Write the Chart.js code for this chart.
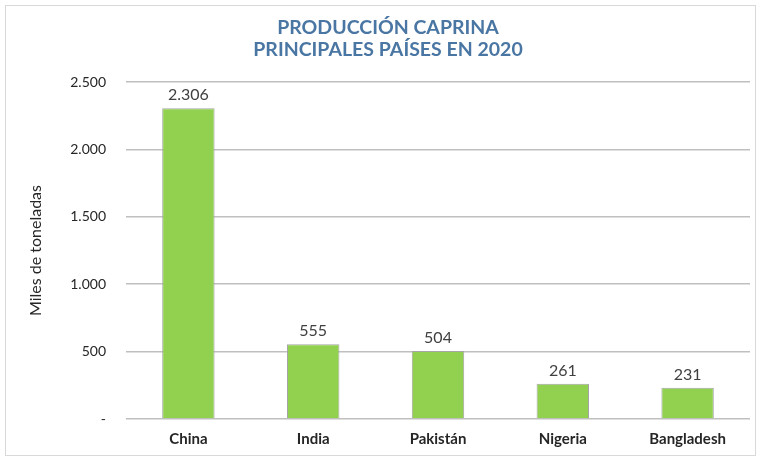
<!DOCTYPE html>
<html>
<head>
<meta charset="utf-8">
<script src="https://cdn.jsdelivr.net/npm/chart.js@4"></script>
<style>
  html, body { margin: 0; padding: 0; background: #fff; }
  #marco { position: absolute; left: 5px; top: 5px; width: 749px; height: 449px; border: 1px solid #d9d9d9; }
  #wrap { position: absolute; left: 0; top: 0; width: 757px; height: 459px; }
</style>
</head>
<body>
<div id="marco"></div>
<div id="wrap"><canvas id="caprinaChart"></canvas></div>
<script>
// producción caprina, principales países 2020 (miles de toneladas)
const paises = ['China', 'India', 'Pakistán', 'Nigeria', 'Bangladesh'];
const produccion = [2306, 555, 504, 261, 231];
const ticksY = [0, 500, 1000, 1500, 2000, 2500];

const fmt = v => v === 0 ? '-' : v.toLocaleString('de-DE');

// etiquetas de valor encima de cada barra
const etiquetas = {
    id: 'etiquetas',
    afterDatasetsDraw(chart) {
        const ctx = chart.ctx;
        const meta = chart.getDatasetMeta(0);
        ctx.save();
        ctx.font = "16px Lato, sans-serif";
        ctx.fillStyle = '#404040';
        ctx.textAlign = 'center';
        ctx.textBaseline = 'bottom';
        meta.data.forEach((bar, i) => {
            ctx.fillText(fmt(produccion[i]), bar.x, bar.y - 5);
        });
        ctx.restore();
    }
};

new Chart(document.getElementById('caprinaChart'), {
    type: 'bar',
    data: {
        labels: paises,
        datasets: [{
            data: produccion,
            backgroundColor: '#92D050',
            borderColor: '#A6A6A6',
            borderWidth: 1,
            barPercentage: 0.42,
            categoryPercentage: 1
        }]
    },
    plugins: [etiquetas],
    options: {
        responsive: true,
        maintainAspectRatio: false,
        animation: false,
        layout: {
            padding: { left: 26, right: 7, top: 12, bottom: 0 }
        },
        plugins: {
            legend: { display: false },
            tooltip: { enabled: false },
            title: {
                display: true,
                text: ['PRODUCCIÓN CAPRINA', 'PRINCIPALES PAÍSES EN 2020'],
                color: '#4A76A3',
                font: { family: "Lato, sans-serif", size: 19.5, weight: 'bold', lineHeight: 1.13 },
                padding: { top: 5, bottom: 21 }
            }
        },
        scales: {
            y: {
                min: 0,
                max: 2500,
                afterBuildTicks: scale => { scale.ticks = ticksY.map(v => ({ value: v })); },
                afterFit: scale => { scale.width = 100; },
                border: { display: false },
                grid: { color: '#BFBFBF', lineWidth: 1.5, drawTicks: false },
                ticks: {
                    padding: 20,
                    color: '#262626',
                    font: { family: "Lato, sans-serif", size: 14 },
                    callback: v => fmt(v)
                },
                title: {
                    display: true,
                    text: 'Miles de toneladas',
                    color: '#262626',
                    font: { family: "Lato, sans-serif", size: 16 },
                    padding: { top: 0, bottom: 0 }
                }
            },
            x: {
                afterFit: scale => { scale.height = 40; },
                border: { display: false },
                grid: { display: false, drawTicks: false },
                ticks: {
                    padding: 11,
                    color: '#262626',
                    font: { family: "Lato, sans-serif", size: 15, weight: 'bold' }
                }
            }
        }
    }
});
</script>
</body>
</html>
